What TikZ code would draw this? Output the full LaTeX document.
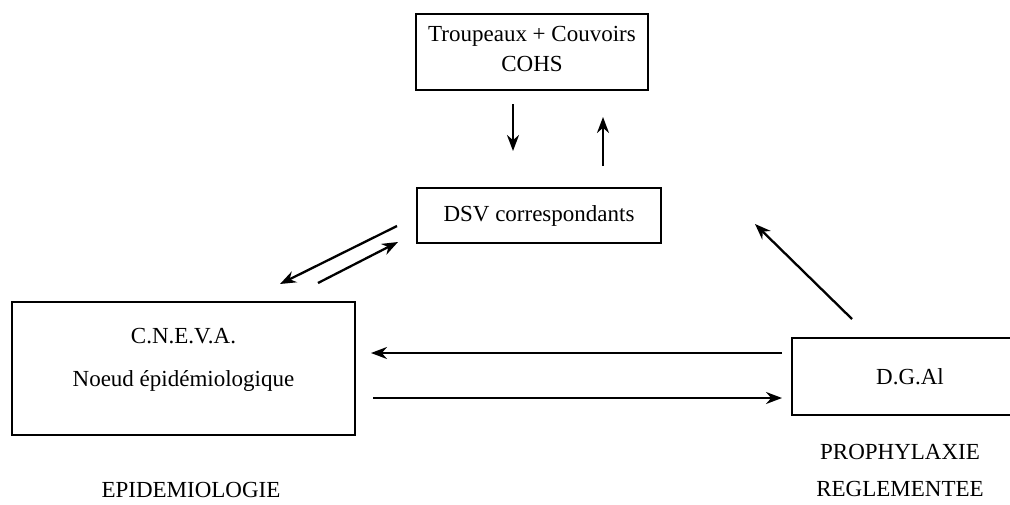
\documentclass[tikz,border=0pt]{standalone}
\usepackage{fontspec}
\setmainfont{Liberation Serif}
\usetikzlibrary{arrows.meta,calc}
\begin{document}
\begin{tikzpicture}[x=1pt,y=-1pt,
  txt/.style={font=\fontsize{23}{27}\selectfont},
  box/.style={draw,line width=2.3pt,inner sep=0pt,txt},
  lbl/.style={txt,inner sep=0pt},
  arr/.style={line width=2.3pt,-{Stealth[length=16pt,width=12pt]}}]
\clip (0,0) rectangle (1010,504);
\useasboundingbox (0,0) rectangle (1010,504);
\node[box,minimum width=232pt,minimum height=76pt] (top) at (532,52) {};
\node[lbl,align=center] (toptxt) at (532,49) {Troupeaux + Couvoirs\\[3pt]COHS};
\node[box,minimum width=244pt,minimum height=55pt] (dsv) at (539,215.5) {DSV correspondants};
\node[box,minimum width=343pt,minimum height=133pt] (cneva) at (183.5,368.5) {};
\node[lbl,align=center] (cnevatxt) at (183.5,360) {C.N.E.V.A.\\[16pt]Noeud épidémiologique};
\node[box,minimum width=236pt,minimum height=77pt] (dgal) at (910,376.5) {D.G.Al};
\node[lbl] (epi) at (191,490) {EPIDEMIOLOGIE};
\node[lbl,align=center] (pro) at (900,470) {PROPHYLAXIE\\[10pt]REGLEMENTEE};
% vertical arrows
\coordinate (d1) at (513,104); \coordinate (d2) at (513,151);
\coordinate (u1) at (603,166); \coordinate (u2) at (603,117);
\draw[arr] (d1) -- (d2);
\draw[arr] (u1) -- (u2);
% diagonal arrows DSV <-> CNEVA
\coordinate (a1) at (397,226); \coordinate (a2) at (280,284);
\coordinate (b1) at (318,283); \coordinate (b2) at (398,242);
\draw[arr] (a1) -- (a2);
\draw[arr] (b1) -- (b2);
% DGAL -> DSV
\coordinate (c1) at (852,319); \coordinate (c2) at (755,224);
\draw[arr] (c1) -- (c2);
% horizontal arrows
\coordinate (h1) at (782,353); \coordinate (h2) at (371,353);
\coordinate (k1) at (373,398); \coordinate (k2) at (782,398);
\draw[arr] (h1) -- (h2);
\draw[arr] (k1) -- (k2);
\end{tikzpicture}
\end{document}
